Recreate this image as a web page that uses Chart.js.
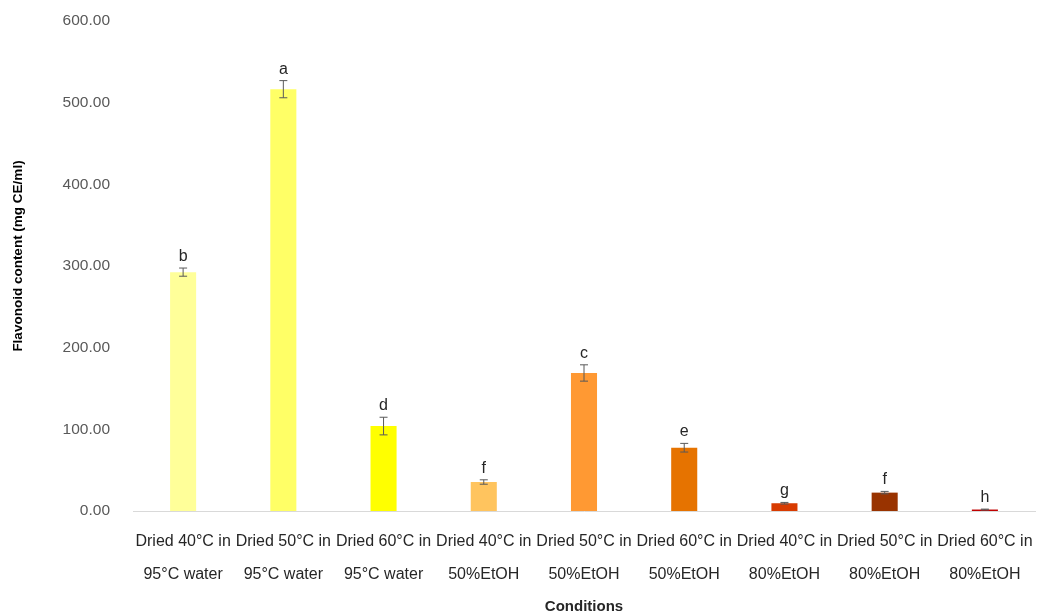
<!DOCTYPE html>
<html>
<head>
<meta charset="utf-8">
<script src="https://cdn.jsdelivr.net/npm/chart.js@4.4.1/dist/chart.umd.min.js"></script>
<style>
  html, body { margin: 0; padding: 0; background: #fff; }
  #wrap { width: 1041px; height: 613px; }
</style>
</head>
<body>
<div id="wrap"><canvas id="c" width="1041" height="613"></canvas></div>
<script>
const categories = [
  ["Dried 40°C in", "95°C water"],
  ["Dried 50°C in", "95°C water"],
  ["Dried 60°C in", "95°C water"],
  ["Dried 40°C in", "50%EtOH"],
  ["Dried 50°C in", "50%EtOH"],
  ["Dried 60°C in", "50%EtOH"],
  ["Dried 40°C in", "80%EtOH"],
  ["Dried 50°C in", "80%EtOH"],
  ["Dried 60°C in", "80%EtOH"]
];
const values = [292.5, 516.5, 104.0, 35.5, 169.0, 77.5, 9.5, 22.5, 1.8];
const errors = [5.0, 10.5, 10.8, 2.7, 10.0, 5.3, 1.0, 1.5, 0.5];
const letters = ["b", "a", "d", "f", "c", "e", "g", "f", "h"];
const barColors = ["#FFFF99", "#FFFF66", "#FFFF00", "#FFC45E", "#FF9933", "#E67300", "#D83B01", "#993300", "#C00000"];
const yTicks = [0, 100, 200, 300, 400, 500, 600];
const yTitle = "Flavonoid content (mg CE/ml)";

const FONT = "'Liberation Sans', Arial, sans-serif";

const errorPlugin = {
  id: 'errorLetters',
  afterDatasetsDraw(chart) {
    const ctx = chart.ctx;
    const x = chart.scales.x, y = chart.scales.y;
    ctx.save();
    values.forEach((v, i) => {
      const cx = x.getPixelForValue(i);
      const top = y.getPixelForValue(v + errors[i]);
      const bot = y.getPixelForValue(Math.max(0, v - errors[i]));
      ctx.strokeStyle = '#595959';
      ctx.lineWidth = 1;
      ctx.beginPath();
      ctx.moveTo(cx, top); ctx.lineTo(cx, bot);
      ctx.moveTo(cx - 4, top); ctx.lineTo(cx + 4, top);
      ctx.moveTo(cx - 4, bot); ctx.lineTo(cx + 4, bot);
      ctx.stroke();
      ctx.fillStyle = '#262626';
      ctx.font = '16px ' + FONT;
      ctx.textAlign = 'center';
      ctx.textBaseline = 'alphabetic';
      ctx.fillText(letters[i], cx, top - 7);
    });
    // y axis title
    ctx.translate(18, 256);
    ctx.rotate(-Math.PI / 2);
    ctx.fillStyle = '#000000';
    ctx.font = 'bold 13.5px ' + FONT;
    ctx.textAlign = 'center';
    ctx.textBaseline = 'middle';
    ctx.fillText(yTitle, 0, 0);
    ctx.restore();
  }
};

new Chart(document.getElementById('c'), {
  type: 'bar',
  data: {
    labels: categories,
    datasets: [{
      data: values,
      backgroundColor: barColors,
      borderWidth: 0,
      barPercentage: 0.26,
      categoryPercentage: 1.0
    }]
  },
  options: {
    responsive: false,
    animation: false,
    devicePixelRatio: 1,
    layout: { padding: { top: 21, right: 6, bottom: 0, left: 0 } },
    plugins: { legend: { display: false }, tooltip: { enabled: false } },
    scales: {
      x: {
        offset: true,
        grid: { display: false, drawTicks: false },
        border: { display: true, color: '#d9d9d9', width: 1 },
        ticks: {
          autoSkip: false, maxRotation: 0, minRotation: 0, padding: 14,
          color: '#262626',
          font: { family: FONT, size: 16, lineHeight: 2.06 }
        },
        title: {
          display: true, text: 'Conditions', color: '#262626',
          font: { family: FONT, size: 15, weight: 'bold', lineHeight: 0.8 },
          padding: { top: 0, bottom: 0 }
        },
        afterFit(scale) {
          scale.height = 102;
          scale.paddingLeft = 0; scale.paddingRight = 0;
        }
      },
      y: {
        min: 0, max: 600,
        afterBuildTicks(scale) { scale.ticks = yTicks.map(v => ({ value: v })); },
        grid: { display: false, drawTicks: false },
        border: { display: false },
        ticks: {
          padding: 23, color: '#595959',
          font: { family: FONT, size: 15.5 },
          callback: v => Number(v).toFixed(2)
        },
        title: { display: false },
        afterFit(scale) {
          scale.width = 133;
          scale.paddingTop = 0; scale.paddingBottom = 0;
        }
      }
    }
  },
  plugins: [errorPlugin]
});
</script>
</body>
</html>
